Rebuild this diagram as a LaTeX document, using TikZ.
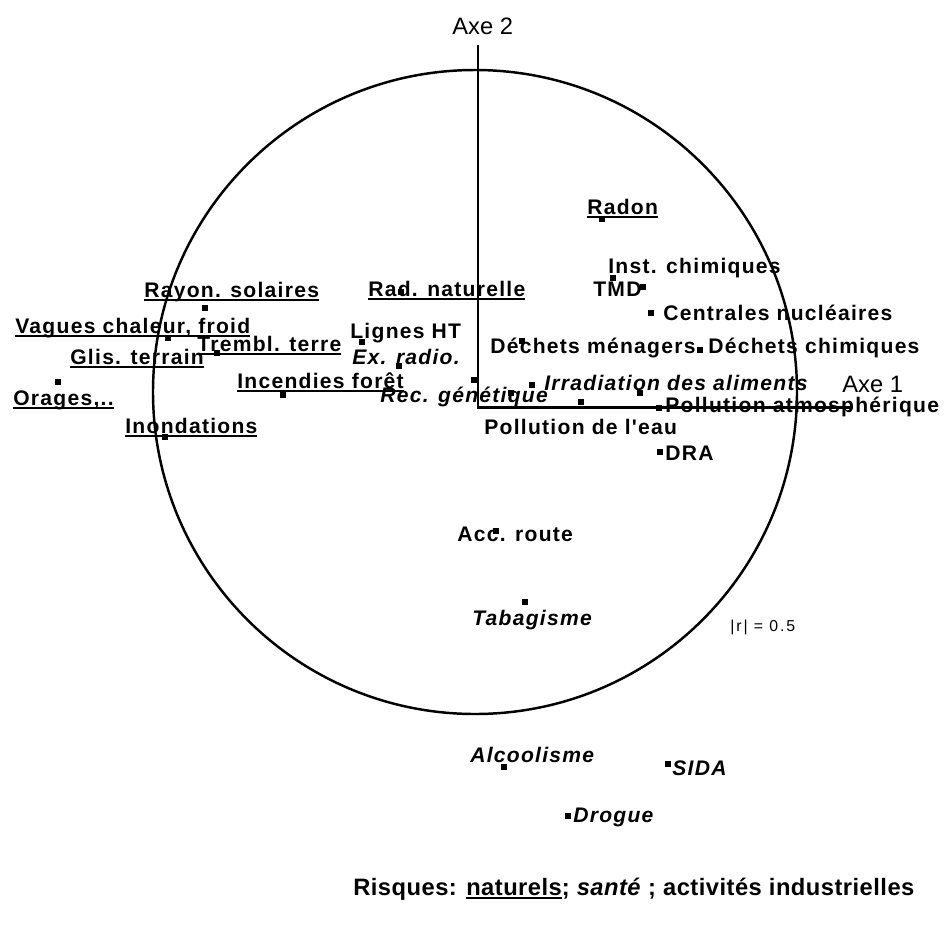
\documentclass[tikz,border=0pt]{standalone}
\usepackage{fontspec}
\setmainfont{Liberation Sans}
\newfontfamily\labfont{Liberation Sans}[LetterSpace=6]
\newfontfamily\capfont{Liberation Sans}[LetterSpace=2]
\newfontfamily\rfont{Liberation Sans}[LetterSpace=12]
\usepackage{tikz}
\newcommand{\souligne}[1]{\setbox0\hbox{#1}\rlap{\rule[-2.2pt]{\wd0}{0.9pt}}\box0}

\begin{document}
\begin{tikzpicture}[
  x=0.02cm, y=-0.02cm,
  sq/.style={rectangle, fill=black, inner sep=0pt, minimum size=3.8pt},
  indus/.style={anchor=base west, inner sep=0pt, font=\labfont\fontsize{12}{14}\selectfont\bfseries},
  nat/.style={indus},
  sante/.style={indus, font=\labfont\fontsize{12}{14}\selectfont\bfseries\itshape},
  axlab/.style={inner sep=0pt, anchor=base west, font=\fontsize{13.5}{15}\selectfont},
  axis/.style={draw=black, line width=1.7pt},
  cercle/.style={draw=black, line width=1.4pt}
]
\useasboundingbox (0,0) rectangle (948,931);

% Circle and axes
\draw[cercle] (475,392) circle [radius=322];
\coordinate (O) at (478,407);
\coordinate (top2) at (478,45);
\coordinate (end1) at (850,407);
\draw[axis] (top2) -- (O) -- (end1);
\node[axlab] (axe2) at (452,34) {Axe 2};
\node[axlab] (axe1) at (842,392) {Axe 1};

% Risques naturels
\node[sq] (mRadon) at (602,219) {};
\node[nat] (radon) at (587,214) {\souligne{Radon}};
\node[sq] (mRayon) at (205,308) {};
\node[nat] (rayon) at (144,297) {\souligne{Rayon. solaires}};
\node[sq] (mRadnat) at (401,292) {};
\node[nat] (radnat) at (368,296) {\souligne{Rad. naturelle}};
\node[sq] (mVagues) at (168,338) {};
\node[nat] (vagues) at (15,333) {\souligne{Vagues chaleur, froid}};
\node[sq] (mTrembl) at (217,353) {};
\node[nat] (trembl) at (197,351) {\souligne{Trembl. terre}};
\node[nat] (glis) at (70,364) {\souligne{Glis. terrain}};
\node[sq] (mOrages) at (58,382) {};
\node[nat] (orages) at (13,405) {\souligne{Orages,..}};
\node[sq] (mIncend) at (283,395) {};
\node[nat] (incend) at (237,388) {\souligne{Incendies forêt}};
\node[sq] (mInond) at (165,437) {};
\node[nat] (inond) at (125,433) {\souligne{Inondations}};

% Activites industrielles
\node[sq] (mInstch) at (613,278) {};
\node[indus] (instch) at (608,273) {Inst. chimiques};
\node[sq] (mTmd) at (643,287) {};
\node[indus] (tmd) at (593,296) {TMD};
\node[sq] (mCentr) at (651,313) {};
\node[indus] (centr) at (663,320) {Centrales nucléaires};
\node[sq] (mLignes) at (362,342) {};
\node[indus] (lignes) at (350,338) {Lignes HT};
\node[sq] (mDechm) at (522,341) {};
\node[indus] (dechm) at (490,353) {Déchets ménagers};
\node[sq] (mDechc) at (700,350) {};
\node[indus] (dechc) at (708,353) {Déchets chimiques};
\node[sq] (mPolleau) at (581,402) {};
\node[indus] (polleau) at (484,434) {Pollution de l'eau};
\node[sq] (mPollatm) at (659,408) {};
\node[indus] (pollatm) at (665,412) {Pollution atmosphérique};
\node[sq] (mDra) at (660,452) {};
\node[indus] (dra) at (665,460) {DRA};
\node[sq] (mAcc) at (496,531) {};
\node[indus] (acc) at (457,541) {Acc. route};

% Sante
\node[sq] (mExradio) at (399,366) {};
\node[sante] (exradio) at (352,364) {Ex. radio.};
\node[sq] (mIrrad) at (532,385) {};
\node[sq] (mIrrad2) at (640,393) {};
\node[sante] (irrad) at (544,390) {Irradiation des aliments};
\node[sq] (mRecgen) at (511,393) {};
\node[sq] (mRecgen2) at (474,380) {};
\node[sante] (recgen) at (380,402) {Rec. génétique};
\node[sq] (mTabac) at (525,602) {};
\node[sante] (tabac) at (472,625) {Tabagisme};
\node[sq] (mAlcool) at (504,767) {};
\node[sante] (alcool) at (470,762) {Alcoolisme};
\node[sq] (mSida) at (668,764) {};
\node[sante] (sida) at (672,775) {SIDA};
\node[sq] (mDrogue) at (568,816) {};
\node[sante] (drogue) at (573,822) {Drogue};

% r = 0.5 and caption
\node[inner sep=0pt, anchor=base west, font=\rfont\fontsize{9}{10}\selectfont] (rlab) at (730,631) {|r| = 0.5};
\node[inner sep=0pt, anchor=base west, font=\capfont\fontsize{13.5}{15}\selectfont\bfseries] (legende) at (353,895)
  {Risques: \souligne{naturels}; \textit{santé} ; activités industrielles};

\end{tikzpicture}
\end{document}
